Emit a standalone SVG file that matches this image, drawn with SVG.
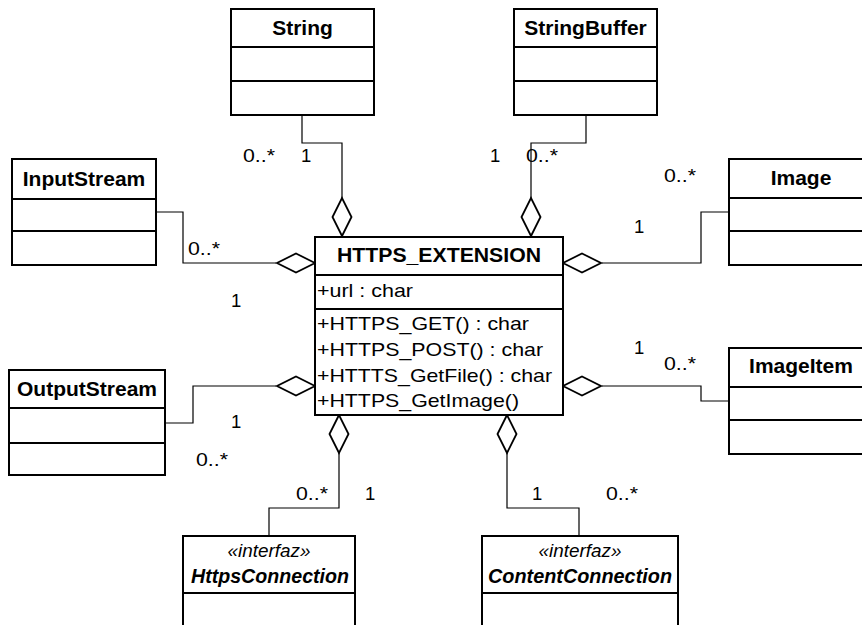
<svg xmlns="http://www.w3.org/2000/svg" width="862" height="625" viewBox="0 0 862 625">
  <style>
    .box { fill: #ffffff; stroke: #000000; stroke-width: 2; }
    .sep { stroke: #000000; stroke-width: 2; }
    .wire { fill: none; stroke: #000000; stroke-width: 1.2; }
    .agg { fill: #ffffff; stroke: #000000; stroke-width: 1.8; stroke-linejoin: miter; }
    text { font-family: "Liberation Sans", Arial, sans-serif; fill: #000000; }
    .name { font-size: 21px; font-weight: bold; text-anchor: middle; }
    .iname { font-size: 21px; font-weight: bold; font-style: italic; text-anchor: middle; }
    .stereo { font-size: 19px; font-style: italic; text-anchor: middle; }
    .member { font-size: 18.5px; }
    .mult { font-size: 18.5px; }
  </style>
  <defs>
    <!-- hollow aggregation diamond, tip at origin, pointing toward +x -->
    <polygon id="diamond" class="agg" points="0,0 -19,-9.5 -38,0 -19,9.5"/>
  </defs>

  <!-- connectors -->
  <g id="connectors">
    <polyline class="wire" points="302,115 302,143 342,143 342,198"/>
    <polyline class="wire" points="586,115 586,143 531,143 531,198"/>
    <polyline class="wire" points="156,212 183,212 183,263 276,263"/>
    <polyline class="wire" points="165,423 193,423 193,386 276,386"/>
    <polyline class="wire" points="729,212 701,212 701,263 602,263"/>
    <polyline class="wire" points="729,401 701,401 701,386 602,386"/>
    <polyline class="wire" points="339,453 339,508 269,508 269,536"/>
    <polyline class="wire" points="507,453 507,508 579,508 579,536"/>

    <use href="#diamond" transform="translate(342,236) rotate(90)"/>
    <use href="#diamond" transform="translate(531,236) rotate(90)"/>
    <use href="#diamond" transform="translate(315,263)"/>
    <use href="#diamond" transform="translate(315,386)"/>
    <use href="#diamond" transform="translate(563,263) rotate(180)"/>
    <use href="#diamond" transform="translate(563,386) rotate(180)"/>
    <use href="#diamond" transform="translate(339,415) rotate(-90)"/>
    <use href="#diamond" transform="translate(507,415) rotate(-90)"/>

    <!-- multiplicities -->
    <text class="mult" x="243" y="162" textLength="32" lengthAdjust="spacingAndGlyphs">0..*</text>
    <text class="mult" x="301" y="162">1</text>
    <text class="mult" x="490" y="162">1</text>
    <text class="mult" x="526" y="162" textLength="32" lengthAdjust="spacingAndGlyphs">0..*</text>
    <text class="mult" x="188" y="255" textLength="32" lengthAdjust="spacingAndGlyphs">0..*</text>
    <text class="mult" x="231" y="307">1</text>
    <text class="mult" x="231" y="428">1</text>
    <text class="mult" x="196" y="466" textLength="32" lengthAdjust="spacingAndGlyphs">0..*</text>
    <text class="mult" x="664" y="182" textLength="32" lengthAdjust="spacingAndGlyphs">0..*</text>
    <text class="mult" x="634" y="233">1</text>
    <text class="mult" x="634" y="354">1</text>
    <text class="mult" x="664" y="370" textLength="32" lengthAdjust="spacingAndGlyphs">0..*</text>
    <text class="mult" x="296" y="500" textLength="32" lengthAdjust="spacingAndGlyphs">0..*</text>
    <text class="mult" x="365" y="500">1</text>
    <text class="mult" x="532" y="500">1</text>
    <text class="mult" x="606" y="500" textLength="32" lengthAdjust="spacingAndGlyphs">0..*</text>
  </g>

  <g id="String">
    <rect class="box" x="231" y="9" width="143" height="106"/>
    <line class="sep" x1="231" y1="47" x2="374" y2="47"/>
    <line class="sep" x1="231" y1="81" x2="374" y2="81"/>
    <text class="name" x="302.5" y="35">String</text>
  </g>

  <g id="StringBuffer">
    <rect class="box" x="514" y="9" width="143" height="106"/>
    <line class="sep" x1="514" y1="47" x2="657" y2="47"/>
    <line class="sep" x1="514" y1="81" x2="657" y2="81"/>
    <text class="name" x="585.5" y="35">StringBuffer</text>
  </g>

  <g id="InputStream">
    <rect class="box" x="12" y="159" width="144" height="106"/>
    <line class="sep" x1="12" y1="199" x2="156" y2="199"/>
    <line class="sep" x1="12" y1="231" x2="156" y2="231"/>
    <text class="name" x="84" y="186">InputStream</text>
  </g>

  <g id="OutputStream">
    <rect class="box" x="9" y="370" width="156" height="105"/>
    <line class="sep" x1="9" y1="408" x2="165" y2="408"/>
    <line class="sep" x1="9" y1="443" x2="165" y2="443"/>
    <text class="name" x="87" y="396">OutputStream</text>
  </g>

  <g id="Image">
    <rect class="box" x="729" y="159" width="144" height="106"/>
    <line class="sep" x1="729" y1="198" x2="873" y2="198"/>
    <line class="sep" x1="729" y1="231" x2="873" y2="231"/>
    <text class="name" x="801" y="185">Image</text>
  </g>

  <g id="ImageItem">
    <rect class="box" x="729" y="348" width="144" height="106"/>
    <line class="sep" x1="729" y1="387" x2="873" y2="387"/>
    <line class="sep" x1="729" y1="420" x2="873" y2="420"/>
    <text class="name" x="801" y="373">ImageItem</text>
  </g>

  <g id="HTTPS_EXTENSION">
    <rect class="box" x="315" y="237" width="248" height="178"/>
    <line class="sep" x1="315" y1="275" x2="563" y2="275"/>
    <line class="sep" x1="315" y1="309" x2="563" y2="309"/>
    <text class="name" x="439" y="262" textLength="204" lengthAdjust="spacingAndGlyphs">HTTPS_EXTENSION</text>
    <text class="member" x="317" y="297" textLength="96" lengthAdjust="spacingAndGlyphs">+url : char</text>
    <text class="member" x="317" y="330" textLength="212" lengthAdjust="spacingAndGlyphs">+HTTPS_GET() : char</text>
    <text class="member" x="317" y="356" textLength="226" lengthAdjust="spacingAndGlyphs">+HTTPS_POST() : char</text>
    <text class="member" x="317" y="382" textLength="235" lengthAdjust="spacingAndGlyphs">+HTTTS_GetFile() : char</text>
    <text class="member" x="317" y="407" textLength="202" lengthAdjust="spacingAndGlyphs">+HTTPS_GetImage()</text>
  </g>

  <g id="HttpsConnection">
    <rect class="box" x="183" y="536" width="172" height="100"/>
    <line class="sep" x1="183" y1="593" x2="355" y2="593"/>
    <text class="stereo" x="269" y="557" textLength="83" lengthAdjust="spacingAndGlyphs">«interfaz»</text>
    <text class="iname" x="270" y="583" textLength="158" lengthAdjust="spacingAndGlyphs">HttpsConnection</text>
  </g>

  <g id="ContentConnection">
    <rect class="box" x="482" y="536" width="196" height="100"/>
    <line class="sep" x1="482" y1="593" x2="678" y2="593"/>
    <text class="stereo" x="580" y="557" textLength="83" lengthAdjust="spacingAndGlyphs">«interfaz»</text>
    <text class="iname" x="580" y="583" textLength="184" lengthAdjust="spacingAndGlyphs">ContentConnection</text>
  </g>
</svg>
